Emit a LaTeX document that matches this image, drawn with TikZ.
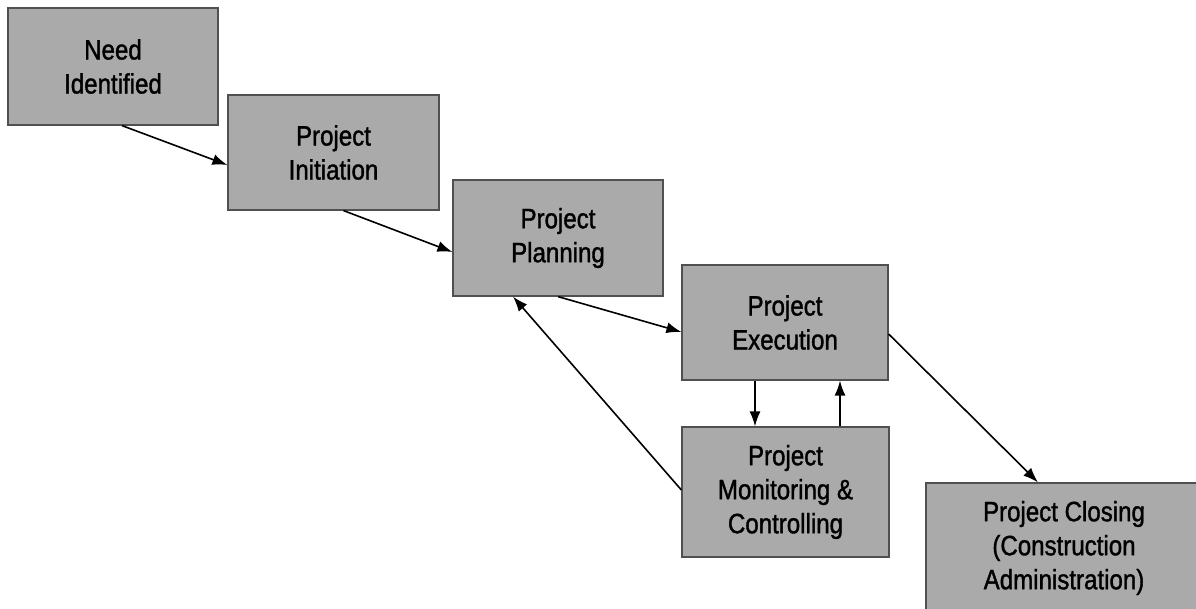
\documentclass[tikz,border=0pt]{standalone}
\usepackage{fontspec}
\setmainfont[FakeStretch=0.86,FakeBold=1.3]{Liberation Sans}
\usetikzlibrary{arrows.meta,calc}
\definecolor{boxfill}{RGB}{170,170,170}
\definecolor{boxedge}{RGB}{80,80,80}
\tikzset{
  stagebox/.style={draw=boxedge, line width=1.2pt, fill=boxfill, align=center,
    inner sep=0pt, font=\fontsize{28}{34}\selectfont, text=black},
  flow/.style={draw=black, line width=1.6pt, -{Latex[length=15pt,width=11pt]}}
}
\begin{document}
\begin{tikzpicture}[x=1pt,y=-1pt]
\useasboundingbox (0,0) rectangle (1196,609);
\node[stagebox, minimum width=210pt, minimum height=117pt] (need) at (113,66.5) {Need\\Identified};
\node[stagebox, minimum width=211pt, minimum height=115pt] (init) at (333.5,152.5) {Project\\Initiation};
\node[stagebox, minimum width=210pt, minimum height=116pt] (plan) at (558,238) {Project\\Planning};
\node[stagebox, minimum width=206pt, minimum height=115pt] (exec) at (785,322.5) {Project\\Execution};
\node[stagebox, minimum width=207pt, minimum height=130pt] (mon) at (785.5,492) {Project\\Monitoring \&\\Controlling};
\node[stagebox, minimum width=276pt, minimum height=130pt] (close) at (1064,548) {Project Closing\\(Construction\\Administration)};
\draw[flow] ([xshift=9pt]need.south) -- ([yshift=-12.5pt]init.west);
\draw[flow] ([xshift=10pt]init.south) -- ([yshift=-14pt]plan.west);
\draw[flow] (plan.south) -- ([yshift=-9.5pt]exec.west);
\draw[flow] ([yshift=2pt]mon.west) -- ([xshift=-45pt]plan.south);
\draw[flow] ([xshift=-30pt]exec.south) -- ([xshift=-30.5pt]mon.north);
\draw[flow] ([xshift=54.5pt]mon.north) -- ([xshift=55pt]exec.south);
\draw[flow] ([yshift=-11.5pt]exec.east) -- ([xshift=-26pt]close.north);
\end{tikzpicture}
\end{document}
